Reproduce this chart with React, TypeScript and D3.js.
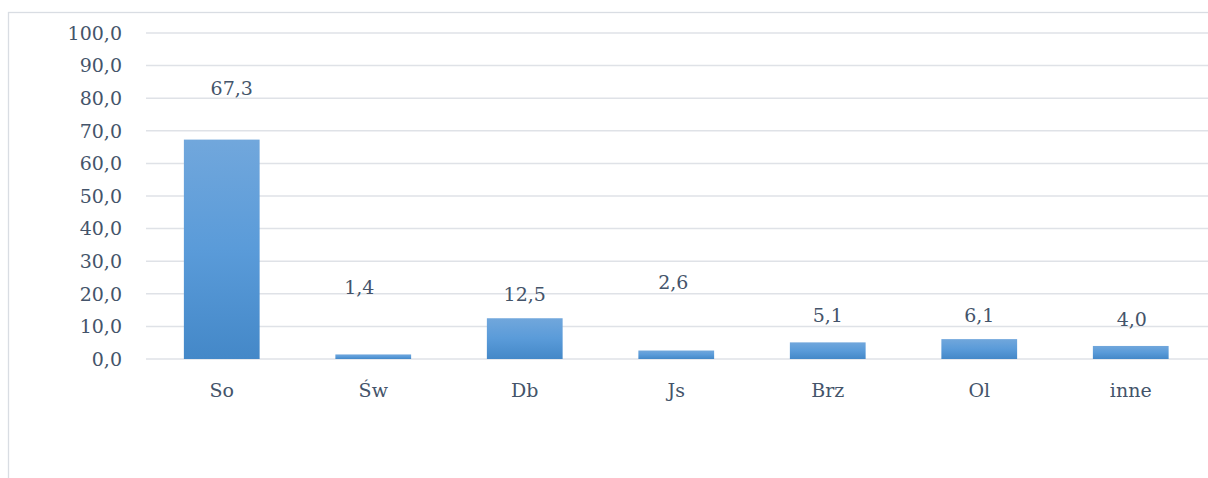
import React, { useEffect, useRef } from "react";
import * as d3 from "d3";

const categories = ["So", "Św", "Db", "Js", "Brz", "Ol", "inne"];
const values = [67.3, 1.4, 12.5, 2.6, 5.1, 6.1, 4.0];
const yTicks = [0, 10, 20, 30, 40, 50, 60, 70, 80, 90, 100];
// where the (hand-moved) data labels sit, in axis units, and their sideways nudge
const labelLevels = [81.0, 19.9, 17.8, 21.5, 11.3, 11.3, 10.2];
const labelNudge = [10, -14, 0, -3, 0, 0, 1];

const W = 1208;
const H = 478;
const TEXT = "#44546a";
const FONT = "DejaVu Serif";

const fmt = (v: number) => v.toFixed(1).replace(".", ",");

function App() {
  const ref = useRef<SVGSVGElement | null>(null);

  useEffect(() => {
    const svg = d3.select(ref.current);
    svg.selectAll("*").remove();

    const left = 146;
    const right = 1206.5;
    const top = 33;
    const bottom = 359;

    const x = d3.scaleBand().domain(categories).range([left, right]).paddingInner(0.5).paddingOuter(0.25);
    const y = d3.scaleLinear().domain([0, 100]).range([bottom, top]);

    const defs = svg.append("defs");
    const grad = defs.append("linearGradient").attr("id", "barGrad").attr("x1", 0).attr("y1", 0).attr("x2", 0).attr("y2", 1);
    grad.append("stop").attr("offset", "0%").attr("stop-color", "#71a7dc");
    grad.append("stop").attr("offset", "50%").attr("stop-color", "#5a9bd9");
    grad.append("stop").attr("offset", "100%").attr("stop-color", "#4488c8");

    // chart area border (clipped by the image on right and bottom)
    svg.append("rect")
      .attr("x", 8.5).attr("y", 12.5)
      .attr("width", W).attr("height", H)
      .attr("fill", "#fff")
      .attr("stroke", "#d9dde3")
      .attr("stroke-width", 1.3);

    // gridlines
    svg.append("g")
      .selectAll("line")
      .data(yTicks)
      .enter()
      .append("line")
      .attr("x1", left).attr("x2", W)
      .attr("y1", (d) => y(d)).attr("y2", (d) => y(d))
      .attr("stroke", "#dfe2e7")
      .attr("stroke-width", 1.5);

    const text = svg.append("g")
      .attr("font-family", FONT)
      .attr("font-size", 19)
      .attr("fill", TEXT);

    // y tick labels
    text.append("g")
      .selectAll("text")
      .data(yTicks)
      .enter()
      .append("text")
      .attr("x", 122)
      .attr("y", (d) => y(d))
      .attr("dy", "0.36em")
      .attr("text-anchor", "end")
      .text((d) => fmt(d));

    // bars
    svg.append("g")
      .selectAll("rect")
      .data(values)
      .enter()
      .append("rect")
      .attr("x", (_, i) => x(categories[i]) as number)
      .attr("width", x.bandwidth())
      .attr("y", (d) => y(d))
      .attr("height", (d) => y(0) - y(d))
      .attr("fill", "url(#barGrad)");

    // data labels
    text.append("g")
      .selectAll("text")
      .data(values)
      .enter()
      .append("text")
      .attr("x", (_, i) => (x(categories[i]) as number) + x.bandwidth() / 2 + labelNudge[i])
      .attr("y", (_, i) => y(labelLevels[i]))
      .attr("text-anchor", "middle")
      .text((d) => fmt(d));

    // category labels
    text.append("g")
      .selectAll("text")
      .data(categories)
      .enter()
      .append("text")
      .attr("x", (d) => (x(d) as number) + x.bandwidth() / 2)
      .attr("y", 397)
      .attr("text-anchor", "middle")
      .text((d) => d);
  }, []);

  return (
    <svg
      ref={ref}
      width={W}
      height={H}
      style={{ position: "absolute", left: 0, top: 0, display: "block", background: "#fff" }}
    />
  );
}

export default App;
